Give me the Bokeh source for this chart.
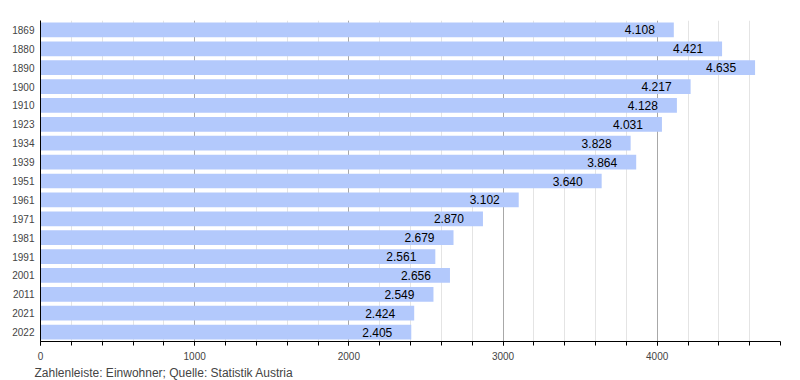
from bokeh.plotting import figure
from bokeh.models import ColumnDataSource, FixedTicker, Range1d, FactorRange, Title
from bokeh.core.properties import value
from bokeh.embed import file_html
from bokeh.resources import INLINE

years = ["1869", "1880", "1890", "1900", "1910", "1923", "1934", "1939", "1951",
         "1961", "1971", "1981", "1991", "2001", "2011", "2021", "2022"]
population = [4108, 4421, 4635, 4217, 4128, 4031, 3828, 3864, 3640,
              3102, 2870, 2679, 2561, 2656, 2549, 2424, 2405]
major_ticks = [0, 1000, 2000, 3000, 4000]
minor_ticks = list(range(0, 4801, 200))
footer = "Zahlenleiste: Einwohner; Quelle: Statistik Austria"

labels = [f"{v:,}".replace(",", ".") for v in population]
src = ColumnDataSource(dict(y=years, v=population, lab=labels))

FONT = "Liberation Sans"
p = figure(frame_width=740, frame_height=321, output_backend="svg", toolbar_location=None,
           y_range=FactorRange(*reversed(years), range_padding=0),
           x_range=Range1d(0, 4800),
           min_border_left=40, min_border_right=18, min_border_top=20, min_border_bottom=38)
p.outline_line_color = None

p.hbar(y="y", right="v", left=0, height=0.78, source=src, fill_color="#b3c9fc", line_color=None)
p.text(x="v", y="y", text="lab", source=src, text_align="right", text_baseline="middle",
       x_offset=-19, text_font=value(FONT), text_font_size="12px", text_color="#000000")

p.xaxis.ticker = FixedTicker(ticks=major_ticks, minor_ticks=minor_ticks)
p.xaxis.axis_line_color = "black"
p.xaxis.major_tick_line_color = "black"
p.xaxis.minor_tick_line_color = "black"
p.xaxis.major_tick_in = 0
p.xaxis.major_tick_out = 4
p.xaxis.minor_tick_in = 0
p.xaxis.minor_tick_out = 4
p.xaxis.major_label_text_font = FONT
p.xaxis.major_label_text_font_size = "10px"
p.xaxis.major_label_standoff = 6

p.yaxis.major_tick_line_color = None
p.yaxis.minor_tick_line_color = None
p.yaxis.major_tick_out = 0
p.yaxis.major_tick_in = 0
p.yaxis.axis_line_color = "black"
p.yaxis.major_label_text_font = FONT
p.yaxis.major_label_text_font_size = "10px"
p.yaxis.major_label_standoff = 6

p.ygrid.grid_line_color = None
p.xgrid.grid_line_color = "#a8a8a8"
p.xgrid.minor_grid_line_color = "#e4e4e4"

t = Title(text=footer, align="left", text_font=FONT, text_font_size="12px",
          text_font_style="normal", offset=-6, standoff=2)
p.add_layout(t, "below")

open("out.html", "w").write(file_html(p, INLINE))
